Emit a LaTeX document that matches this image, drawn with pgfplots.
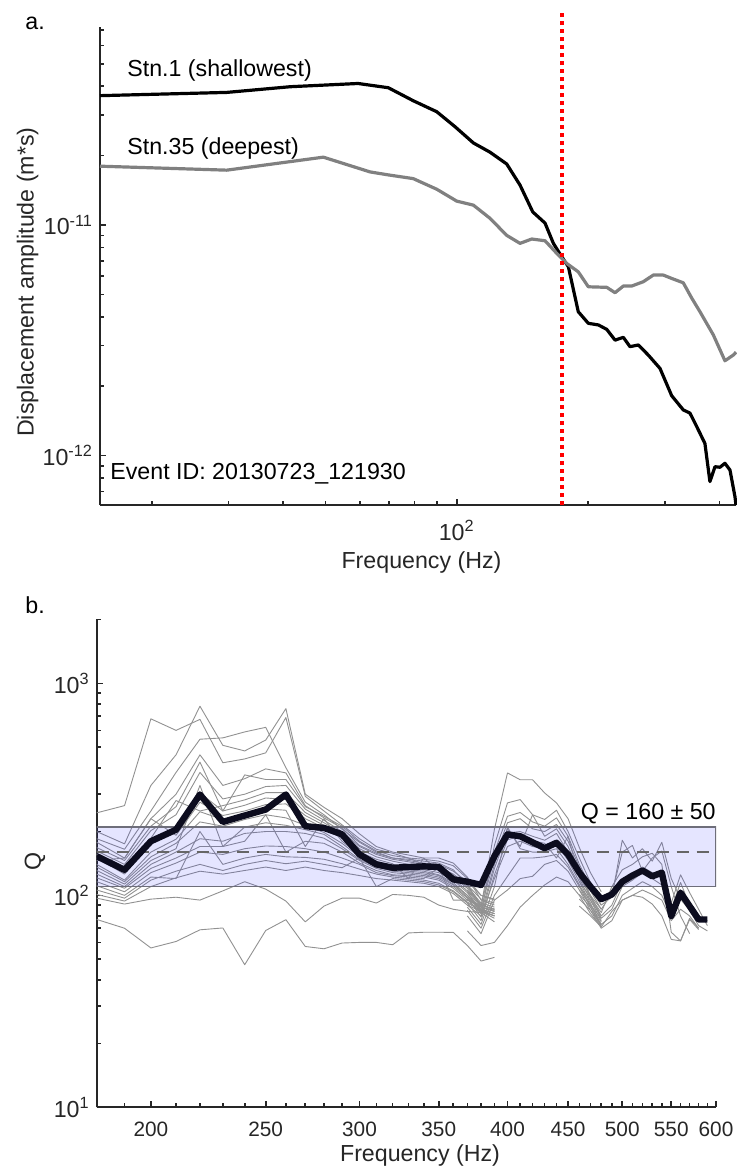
\documentclass[border=0pt]{standalone}
\usepackage{fontspec}
\setmainfont{Liberation Sans}
\usepackage{pgfplots}
\pgfplotsset{compat=1.18}

\definecolor{axcol}{RGB}{38,38,38}
\definecolor{stngray}{RGB}{128,128,128}
\definecolor{qgray}{RGB}{145,145,145}
\definecolor{meanq}{RGB}{12,12,30}
\definecolor{bandedge}{RGB}{110,110,122}
\newcommand{\lbl}{\fontsize{11.6pt}{13.9pt}\selectfont}
\newcommand{\tlb}{\fontsize{10.4pt}{12.5pt}\selectfont}

\pgfplotsset{
  every axis/.append style={
    scale only axis, anchor=south west,
    axis x line=bottom, axis y line=left,
    axis line style={-, line width=1pt, color=axcol},
    tick align=inside,
    major tick length=3.2pt, minor tick length=2pt,
    tick style={axcol, line width=0.8pt},
    tick label style={font=\lbl, text=axcol},
    label style={font=\lbl, text=axcol},
  },
  qline/.style={qgray, line width=0.45pt, line join=round},
}

\begin{document}
\begin{tikzpicture}
\useasboundingbox (0pt,0pt) rectangle (368pt,-584.5pt);

% ---------------- a. source spectra ----------------
\begin{axis}[
  xmode=log, ymode=log,
  at={(50pt,-252.5pt)}, width=318pt, height=239pt,
  xmin=15.21, xmax=436.9, ymin=6.11e-13, ymax=7.22e-11,
  xtick={100}, xticklabels={10\textsuperscript{2}},
  minor xtick={20,30,40,50,60,70,80,90,200,300,400},
  ytick={1e-12,1e-11}, yticklabels={10\textsuperscript{-12},10\textsuperscript{-11}},
  minor ytick={6e-13,7e-13,8e-13,9e-13,2e-12,3e-12,4e-12,5e-12,6e-12,7e-12,8e-12,9e-12,2e-11,3e-11,4e-11,5e-11,6e-11,7e-11},
  xticklabel style={anchor=base, yshift=-17.5pt},
  xlabel={Frequency (Hz)},
  xlabel style={at={(axis description cs:0.5055,-0.1318)}, anchor=base},
  ylabel={Displacement amplitude (m*s)},
  ylabel style={at={(axis description cs:-0.114,0.4665)}, anchor=center},
  clip=false,
]
% Stn.1 (shallowest)
\addplot[black, line width=1.6pt, line join=round] coordinates {
 (15.21,3.64e-11) (29.7,3.76e-11) (41.5,3.98e-11) (59.4,4.11e-11) (69.7,3.94e-11)
 (79.5,3.46e-11) (90.0,3.10e-11) (99.1,2.67e-11) (109.2,2.27e-11) (119.2,2.07e-11)
 (130.2,1.84e-11) (139.7,1.49e-11) (149.4,1.14e-11) (159.4,1.02e-11) (166.6,8.33e-12)
 (174.1,7.29e-12) (180.3,6.60e-12) (190.0,4.21e-12) (200.3,3.75e-12) (211.2,3.69e-12)
 (220.8,3.53e-12) (230.7,3.17e-12) (241.0,3.26e-12) (249.6,2.97e-12) (260.9,3.02e-12)
 (275.0,2.73e-12) (292.5,2.39e-12) (311.1,1.82e-12) (330.7,1.58e-12) (342.6,1.53e-12)
 (354.9,1.34e-12) (370.8,1.13e-12) (380.7,7.72e-13) (391.0,8.96e-13) (401.4,8.91e-13)
 (412.1,9.27e-13) (423.2,8.67e-13) (434.5,6.64e-13) (436.9,6.11e-13)};
% Stn.35 (deepest)
\addplot[stngray, line width=1.6pt, line join=round] coordinates {
 (15.21,1.80e-11) (29.7,1.73e-11) (49.45,1.97e-11) (63.3,1.70e-11) (69.7,1.65e-11)
 (79.5,1.59e-11) (90.0,1.43e-11) (100,1.27e-11) (109.2,1.22e-11) (119.2,1.07e-11)
 (130.2,9.02e-12) (139.7,8.33e-12) (148.6,8.70e-12) (159.4,8.55e-12) (169.6,7.54e-12)
 (178.7,6.82e-12) (190.0,6.27e-12) (200.3,5.40e-12) (220.8,5.37e-12) (230.7,5.09e-12)
 (241.0,5.44e-12) (251.9,5.44e-12) (267.8,5.68e-12) (282.3,6.07e-12) (297.6,6.07e-12)
 (311.1,5.87e-12) (330.7,5.62e-12) (345.7,4.83e-12) (361.2,4.21e-12) (387.6,3.34e-12)
 (412.1,2.58e-12) (430.6,2.73e-12) (436.9,2.81e-12)};
% corner frequency
\addplot[red, line width=2pt, dash pattern=on 2pt off 2pt] coordinates {(174,6.11e-13) (174,8.3e-11)};
\end{axis}

\node[font=\lbl, anchor=base west, inner sep=0pt] at (12.5pt,-14.5pt) {a.};
\node[font=\lbl, anchor=base west, inner sep=0pt] at (63.5pt,-38pt) {Stn.1 (shallowest)};
\node[font=\lbl, anchor=base west, inner sep=0pt] at (63.5pt,-77pt) {Stn.35 (deepest)};
\node[font=\lbl, anchor=base west, inner sep=0pt] at (55pt,-239.7pt) {Event ID: 20130723\_121930};

% ---------------- b. Q versus frequency ----------------
\begin{axis}[
  xmode=log, ymode=log,
  at={(48.35pt,-553.7pt)}, width=309.65pt, height=243.95pt,
  xmin=180, xmax=600, ymin=10, ymax=2000,
  xtick={200,250,300,350,400,450,500,550,600},
  xticklabels={200,250,300,350,400,450,500,550,600},
  minor xtick={190,210,220,230,240,260,270,280,290,310,320,330,340,360,370,380,390,410,420,430,440,460,470,480,490,510,520,530,540,560,570,580,590},
  ytick={10,100,1000}, yticklabels={10\textsuperscript{1},10\textsuperscript{2},10\textsuperscript{3}},
  minor ytick={20,30,40,50,60,70,80,90,200,300,400,500,600,700,800,900,2000},
  xticklabel style={font=\tlb, anchor=base, yshift=-14.3pt},
  xlabel={Frequency (Hz)},
  xlabel style={at={(axis description cs:0.522,-0.1113)}, anchor=base},
  ylabel={Q},
  ylabel style={at={(axis description cs:-0.0996,0.504)}, anchor=center},
]
% individual stations, 180-390 Hz
\addplot[qline] coordinates {(180,245)(190,265)(200,680)(210,600)(220,676)(230,422)(240,440)(250,470)(260,690)(270,293)(280,250)(290,215)(300,185)(310,165)(320,158)(330,150)(340,148)(350,145)(360,138)(370,120)(380,100)(390,95)};
\addplot[qline] coordinates {(180,200)(190,175)(200,330)(210,460)(220,780)(230,510)(240,480)(250,540)(260,760)(270,300)(280,260)(290,230)(300,195)(310,170)(320,160)(330,155)(340,150)(350,150)(360,142)(370,122)(380,95)(390,90)};
\addplot[qline] coordinates {(180,185)(190,165)(200,250)(210,380)(220,545)(230,553)(240,590)(250,620)(260,400)(270,275)(280,240)(290,205)(300,178)(310,160)(320,150)(330,148)(340,145)(350,142)(360,132)(370,112)(380,90)(390,86)};
\addplot[qline] coordinates {(180,178)(190,150)(200,230)(210,300)(220,460)(230,330)(240,355)(250,395)(260,378)(270,265)(280,232)(290,208)(300,172)(310,158)(320,150)(330,146)(340,142)(350,140)(360,130)(370,116)(380,100)(390,96)};
\addplot[qline] coordinates {(180,168)(190,146)(200,212)(210,262)(220,425)(230,250)(240,370)(250,352)(260,352)(270,262)(280,236)(290,212)(300,180)(310,162)(320,154)(330,150)(340,140)(350,136)(360,126)(370,112)(380,96)(390,92)};
\addplot[qline] coordinates {(180,162)(190,140)(200,202)(210,240)(220,380)(230,285)(240,300)(250,326)(260,330)(270,255)(280,226)(290,200)(300,170)(310,156)(320,148)(330,144)(340,140)(350,134)(360,124)(370,110)(380,92)(390,88)};
\addplot[qline] coordinates {(180,156)(190,132)(200,186)(210,280)(220,250)(230,265)(240,282)(250,305)(260,305)(270,246)(280,220)(290,196)(300,166)(310,152)(320,145)(330,140)(340,138)(350,132)(360,122)(370,108)(380,90)(390,86)};
\addplot[qline] coordinates {(180,150)(190,126)(200,176)(210,200)(220,304)(230,250)(240,266)(250,288)(260,283)(270,238)(280,214)(290,190)(300,160)(310,148)(320,141)(330,120)(340,150)(350,130)(360,120)(370,105)(380,88)(390,84)};
\addplot[qline] coordinates {(180,146)(190,150)(200,230)(210,192)(220,275)(230,238)(240,250)(250,268)(260,270)(270,230)(280,208)(290,186)(300,158)(310,145)(320,138)(330,135)(340,132)(350,128)(360,118)(370,103)(380,86)(390,82)};
\addplot[qline] coordinates {(180,140)(190,118)(200,160)(210,184)(220,248)(230,228)(240,240)(250,256)(260,252)(270,170)(280,230)(290,180)(300,155)(310,141)(320,134)(330,132)(340,130)(350,125)(360,115)(370,100)(380,84)(390,80)};
\addplot[qline] coordinates {(180,136)(190,116)(200,152)(210,176)(220,222)(230,212)(240,228)(250,240)(260,232)(270,214)(280,198)(290,176)(300,152)(310,138)(320,132)(330,130)(340,128)(350,124)(360,113)(370,100)(380,86)(390,82)};
\addplot[qline] coordinates {(180,131)(190,113)(200,146)(210,166)(220,330)(230,170)(240,210)(250,220)(260,214)(270,204)(280,194)(290,170)(300,148)(310,136)(320,130)(330,128)(340,126)(350,122)(360,112)(370,98)(380,85)(390,80)};
\addplot[qline] coordinates {(180,126)(190,110)(200,140)(210,160)(220,185)(230,180)(240,196)(250,200)(260,200)(270,196)(280,186)(290,166)(300,146)(310,134)(320,128)(330,126)(340,124)(350,120)(360,110)(370,97)(380,88)(390,84)};
\addplot[qline] coordinates {(180,121)(190,108)(200,134)(210,150)(220,170)(230,170)(240,180)(250,240)(260,160)(270,180)(280,176)(290,160)(300,142)(310,131)(320,125)(330,124)(340,122)(350,118)(360,108)(370,95)(380,90)(390,86)};
\addplot[qline] coordinates {(180,116)(190,104)(200,128)(210,142)(220,160)(230,156)(240,166)(250,171)(260,170)(270,166)(280,160)(290,150)(300,140)(310,128)(320,124)(330,122)(340,120)(350,135)(360,95)(370,95)(380,88)(390,85)};
\addplot[qline] coordinates {(180,111)(190,100)(200,122)(210,120)(220,200)(230,140)(240,150)(250,156)(260,152)(270,151)(280,148)(290,141)(300,133)(310,126)(320,122)(330,120)(340,118)(350,114)(360,105)(370,93)(380,86)(390,82)};
\addplot[qline] coordinates {(180,106)(190,97)(200,118)(210,130)(220,140)(230,131)(240,140)(250,146)(260,141)(270,145)(280,140)(290,135)(300,150)(310,110)(320,120)(330,118)(340,116)(350,112)(360,104)(370,92)(380,85)(390,80)};
\addplot[qline] coordinates {(180,101)(190,94)(200,110)(210,121)(220,130)(230,126)(240,131)(250,136)(260,131)(270,136)(280,131)(290,128)(300,124)(310,120)(320,118)(330,116)(340,114)(350,110)(360,102)(370,90)(380,84)(390,78)};
\addplot[qline] coordinates {(180,97)(190,91)(200,96)(210,98)(220,95)(230,105)(240,116)(250,107)(260,94)(270,75)(280,89)(290,97)(300,97)(310,92)(320,101)(330,100)(340,98)(350,90)(360,86)(370,84)(380,83)(390,75)};
\addplot[qline] coordinates {(180,77)(190,70)(200,56.5)(210,60.6)(220,68.8)(230,70.2)(240,47.1)(250,68.3)(260,76.8)(270,57.4)(280,56)(290,59.6)(300,60)(310,60)(320,58.5)(330,66.5)(340,67)(350,67)(360,66.9)(370,58)(380,49)(390,51)};
% individual stations, 370-480 Hz
\addplot[qline] coordinates {(370,112)(380,88)(390,205)(400,378)(410,351)(420,351)(430,304)(440,273)(450,230)(460,168)(470,128)(480,104)};
\addplot[qline] coordinates {(370,104)(380,82)(390,172)(400,273)(410,283)(420,240)(430,228)(440,252)(450,200)(460,150)(470,115)(480,95)};
\addplot[qline] coordinates {(370,106)(380,90)(390,160)(400,236)(410,246)(420,222)(430,212)(440,232)(450,190)(460,140)(470,110)(480,90)};
\addplot[qline] coordinates {(370,100)(380,86)(390,150)(400,220)(410,230)(420,206)(430,200)(440,216)(450,180)(460,136)(470,105)(480,86)};
\addplot[qline] coordinates {(370,96)(380,82)(390,140)(400,206)(410,170)(420,240)(430,190)(440,206)(450,170)(460,130)(470,100)(480,80)};
\addplot[qline] coordinates {(370,98)(380,79)(390,134)(400,197)(410,200)(420,190)(430,182)(440,196)(450,160)(460,126)(470,98)(480,78)};
\addplot[qline] coordinates {(370,92)(380,76)(390,125)(400,183)(410,190)(420,181)(430,176)(440,150)(450,190)(460,120)(470,95)(480,76)};
\addplot[qline] coordinates {(370,90)(380,80)(390,120)(400,170)(410,180)(420,170)(430,166)(440,176)(450,146)(460,116)(470,92)(480,72)};
\addplot[qline] coordinates {(370,88)(380,73)(390,110)(400,210)(410,166)(420,160)(430,160)(440,166)(450,140)(460,112)(470,90)(480,75)};
\addplot[qline] coordinates {(370,85)(380,70)(390,100)(400,123)(410,150)(420,150)(430,152)(440,156)(450,136)(460,110)(470,88)(480,71)};
\addplot[qline] coordinates {(370,80)(380,66)(390,95)(400,106)(410,120)(420,123)(430,140)(440,146)(450,130)(460,106)(470,85)(480,73)};
\addplot[qline] coordinates {(370,68)(380,58)(390,60)(400,72)(410,88)(420,100)(430,112)(440,122)(450,116)(460,100)(470,82)(480,71)};
% individual stations, 460-590 Hz
\addplot[qline] coordinates {(460,128)(470,106)(480,90)(490,98)(500,182)(510,150)(520,166)(530,145)(540,178)(550,120)(560,96)};
\addplot[qline] coordinates {(460,122)(470,100)(480,86)(490,102)(500,160)(510,172)(520,130)(530,150)(540,162)(550,110)(560,80)(570,66)};
\addplot[qline] coordinates {(460,116)(470,98)(480,83)(490,110)(500,132)(510,140)(520,152)(530,158)(540,140)(550,67)(560,61)(570,78)(580,70)};
\addplot[qline] coordinates {(460,110)(470,95)(480,80)(490,90)(500,116)(510,126)(520,136)(530,128)(540,122)(550,92)(560,125)(570,103)(580,86)(590,72)};
\addplot[qline] coordinates {(460,106)(470,90)(480,78)(490,86)(500,110)(510,118)(520,128)(530,120)(540,112)(550,86)(560,115)(570,90)(580,80)(590,76)};
\addplot[qline] coordinates {(460,101)(470,88)(480,73)(490,80)(500,100)(510,108)(520,116)(530,110)(540,100)(550,80)(560,96)(570,85)(580,72)(590,68)};
\addplot[qline] coordinates {(460,96)(470,85)(480,70)(490,76)(500,95)(510,100)(520,106)(530,101)(540,95)(550,76)(560,86)(570,80)(580,70)};
\addplot[qline] coordinates {(460,89)(470,80)(480,71)(490,84)(500,95)(510,100)(520,98)(530,91)(540,80)(550,62)(560,61)(570,77)(580,69)};
% Q = 160 +/- 50 range
\addplot[draw=bandedge, line width=0.6pt, fill=blue, fill opacity=0.1] coordinates {(180,110) (600,110) (600,210) (180,210)} -- cycle;
\addplot[black!60, line width=0.6pt, dash pattern=on 6pt off 4pt] coordinates {(180,160) (600,160)};
% average Q
\addplot[meanq, line width=3.2pt, line join=round] coordinates {
 (180,153)(190,132)(200,180)(210,204)(220,299)(230,222)(240,238)(250,254)(260,299)(270,212)
 (280,208)(290,194)(300,156)(310,140)(320,135)(330,136)(340,137)(350,136)(360,119)(370,116)
 (380,112)(390,153)(400,194)(410,190)(420,178)(430,167)(440,177)(450,156)(460,128)(470,110)
 (480,96)(490,101)(500,116)(510,124)(520,131)(530,123)(540,128)(550,80)(560,103)(570,89)
 (580,77)(590,77)};
\end{axis}

\node[font=\lbl, anchor=base west, inner sep=0pt] at (12.5pt,-306.5pt) {b.};
\node[font=\lbl, anchor=base east, inner sep=0pt] at (358pt,-409.5pt) {Q = 160 ± 50};

\end{tikzpicture}
\end{document}
